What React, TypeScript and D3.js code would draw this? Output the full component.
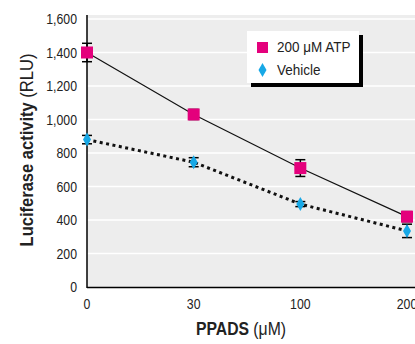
import { useRef, useEffect } from 'react';
import * as d3 from 'd3';

const doses = ['0', '30', '100', '200'];
const atpValues = [1400, 1030, 710, 420];
const atpErrors = [55, 30, 50, 30];
const vehicleValues = [880, 745, 495, 335];
const vehicleErrors = [25, 27, 15, 40];
const yTicks = [0, 200, 400, 600, 800, 1000, 1200, 1400, 1600];

const W = 415;
const H = 344;
const FONT = '"Liberation Sans", Arial, sans-serif';
const MAGENTA = '#e4007c';
const CYAN = '#17a8e6';

export default function App() {
  const svgRef = useRef<SVGSVGElement>(null);

  useEffect(() => {
    const svg = d3.select(svgRef.current);
    svg.selectAll('*').remove();

    const left = 87;
    const right = W;
    const top = 15;
    const bottom = 287;

    const x = d3.scalePoint<string>().domain(doses).range([87, 407]);
    const y = d3.scaleLinear().domain([0, 1600]).range([bottom, 19]);

    // condensed look: squeeze text horizontally
    const narrow = (tx: number, ty: number, sx: number, rot = 0) =>
      `translate(${tx},${ty}) rotate(${rot}) scale(${sx},1)`;

    // plot background
    svg.append('rect')
      .attr('x', left).attr('y', top)
      .attr('width', right - left).attr('height', bottom - top)
      .attr('fill', '#ededed');

    // grid
    svg.selectAll('.grid')
      .data(yTicks.filter((d) => d > 0))
      .join('line')
      .attr('x1', left).attr('x2', right)
      .attr('y1', (d) => y(d)).attr('y2', (d) => y(d))
      .attr('stroke', '#fff').attr('stroke-width', 1.5);

    // axes
    svg.append('line')
      .attr('x1', left).attr('x2', left).attr('y1', top).attr('y2', bottom + 1)
      .attr('stroke', '#000').attr('stroke-width', 1.5);
    svg.append('line')
      .attr('x1', left).attr('x2', right).attr('y1', bottom + 0.5).attr('y2', bottom + 0.5)
      .attr('stroke', '#000').attr('stroke-width', 1.5);

    // y tick labels
    svg.selectAll('.ytick')
      .data(yTicks)
      .join('text')
      .attr('transform', (d) => narrow(77, y(d) + 5, 0.82))
      .attr('text-anchor', 'end')
      .attr('font-family', FONT).attr('font-size', 15).attr('fill', '#222')
      .text((d) => d3.format(',')(d));

    // x tick labels
    svg.selectAll('.xtick')
      .data(doses)
      .join('text')
      .attr('transform', (d) => narrow(x(d)!, 309, 0.82))
      .attr('text-anchor', 'middle')
      .attr('font-family', FONT).attr('font-size', 15).attr('fill', '#222')
      .text((d) => d);

    // axis titles
    const xt = svg.append('text')
      .attr('transform', narrow(241, 335, 0.9))
      .attr('text-anchor', 'middle')
      .attr('font-family', FONT).attr('font-size', 17.5).attr('fill', '#222');
    xt.append('tspan').attr('font-weight', 'bold').text('PPADS');
    xt.append('tspan').text(' (\u03bcM)');

    const yt = svg.append('text')
      .attr('transform', narrow(33, 150, 0.87, -90))
      .attr('text-anchor', 'middle')
      .attr('font-family', FONT).attr('font-size', 19).attr('fill', '#222');
    yt.append('tspan').attr('font-weight', 'bold').text('Luciferase activity');
    yt.append('tspan').text(' (RLU)');

    const line = d3.line<number>()
      .x((_, i) => x(doses[i])!)
      .y((d) => y(d));

    svg.append('path')
      .datum(atpValues)
      .attr('d', line)
      .attr('fill', 'none').attr('stroke', '#111').attr('stroke-width', 1.2);

    svg.append('path')
      .datum(vehicleValues)
      .attr('d', line)
      .attr('fill', 'none').attr('stroke', '#111')
      .attr('stroke-width', 3).attr('stroke-dasharray', '3 3.5');

    const errorBars = (vals: number[], errs: number[]) => {
      vals.forEach((v, i) => {
        const cx = x(doses[i])!;
        const g = svg.append('g').attr('stroke', '#000').attr('stroke-width', 1.5);
        g.append('line').attr('x1', cx).attr('x2', cx)
          .attr('y1', y(v - errs[i])).attr('y2', y(v + errs[i]));
        [v - errs[i], v + errs[i]].forEach((e) => {
          g.append('line').attr('x1', cx - 5).attr('x2', cx + 5)
            .attr('y1', y(e)).attr('y2', y(e));
        });
      });
    };
    errorBars(atpValues, atpErrors);
    errorBars(vehicleValues, vehicleErrors);

    const diamond = (cx: number, cy: number) =>
      `M${cx},${cy - 7}L${cx + 4},${cy}L${cx},${cy + 7}L${cx - 4},${cy}Z`;

    svg.selectAll('.atp')
      .data(atpValues)
      .join('rect')
      .attr('x', (_, i) => x(doses[i])! - 6)
      .attr('y', (d) => y(d) - 6)
      .attr('width', 12).attr('height', 12)
      .attr('fill', MAGENTA);

    svg.selectAll('.veh')
      .data(vehicleValues)
      .join('path')
      .attr('d', (d, i) => diamond(x(doses[i])!, y(d)))
      .attr('fill', CYAN);

    // legend
    const lg = svg.append('g');
    lg.append('rect').attr('x', 251).attr('y', 35).attr('width', 112).attr('height', 52).attr('fill', '#000');
    lg.append('rect').attr('x', 247).attr('y', 31).attr('width', 112).attr('height', 52).attr('fill', '#fff');
    lg.append('rect').attr('x', 257).attr('y', 42).attr('width', 11).attr('height', 11).attr('fill', MAGENTA);
    lg.append('path').attr('d', diamond(262.5, 70)).attr('fill', CYAN);
    lg.append('text').attr('transform', narrow(277, 52, 0.9))
      .attr('font-family', FONT).attr('font-size', 15).attr('fill', '#222')
      .text('200 \u03bcM ATP');
    lg.append('text').attr('transform', narrow(277, 75, 0.9))
      .attr('font-family', FONT).attr('font-size', 15).attr('fill', '#222')
      .text('Vehicle');
  }, []);

  return (
    <svg
      ref={svgRef}
      width={W}
      height={H}
      style={{ position: 'absolute', left: 0, top: 0, background: '#fff' }}
    />
  );
}
